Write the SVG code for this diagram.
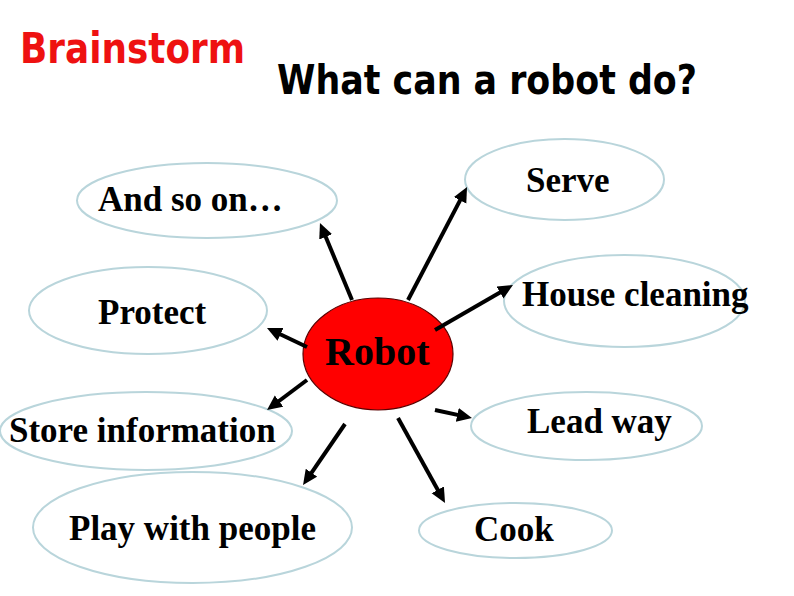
<svg xmlns="http://www.w3.org/2000/svg" width="794" height="596" viewBox="0 0 794 596">
<style>
.bub{fill:#fff;stroke:#b9d5db;stroke-width:2}
.lbl{font-family:"Liberation Serif","Times New Roman",serif;font-weight:bold;font-size:35px;fill:#000}
.title{font-family:"DejaVu Sans","Noto Sans",sans-serif;font-weight:bold}
.arr{stroke:#000;stroke-width:4;fill:none;marker-end:url(#ah)}
</style>
<defs>
<marker id="ah" markerUnits="userSpaceOnUse" markerWidth="18" markerHeight="16" refX="5" refY="7" orient="auto">
<path d="M0,0 L15,7 L0,14 z" fill="#000"/>
</marker>
</defs>
<rect width="794" height="596" fill="#fff"/>
<text class="title" x="20" y="63" font-size="43" fill="#ee1111" textLength="225" lengthAdjust="spacingAndGlyphs">Brainstorm</text>
<text class="title" x="277" y="94" font-size="41" fill="#000" textLength="420" lengthAdjust="spacingAndGlyphs">What can a robot do?</text>

<g id="and-so-on"><ellipse class="bub" cx="207" cy="200.5" rx="130" ry="37.5"/><text class="lbl" x="98" y="211">And so on…</text></g>
<g id="protect"><ellipse class="bub" cx="148" cy="310.5" rx="119" ry="43.5"/><text class="lbl" x="98" y="324">Protect</text></g>
<g id="store"><ellipse class="bub" cx="146" cy="431" rx="146" ry="39"/><text class="lbl" x="9" y="442">Store information</text></g>
<g id="play"><ellipse class="bub" cx="192.5" cy="527.5" rx="159.5" ry="55.5"/><text class="lbl" x="69" y="540">Play with people</text></g>
<g id="serve"><ellipse class="bub" cx="564.5" cy="179.5" rx="99.5" ry="40.5"/><text class="lbl" x="526" y="192">Serve</text></g>
<g id="house"><ellipse class="bub" cx="624.5" cy="301" rx="120.5" ry="46"/><text class="lbl" x="522" y="306">House cleaning</text></g>
<g id="lead"><ellipse class="bub" cx="586.5" cy="426" rx="115.5" ry="34"/><text class="lbl" x="527" y="433">Lead way</text></g>
<g id="cook"><ellipse class="bub" cx="515.5" cy="530.5" rx="96.5" ry="27.5"/><text class="lbl" x="474" y="541">Cook</text></g>
<g id="robot"><ellipse cx="378" cy="354" rx="75" ry="56" fill="#ff0000" stroke="#5a0000" stroke-width="1.2"/><text class="lbl" x="325" y="365" style="font-size:40px">Robot</text></g>

<g id="connectors">
<line class="arr" x1="352" y1="300" x2="323.8" y2="232.2"/>
<line class="arr" x1="307" y1="347" x2="276" y2="332.3"/>
<line class="arr" x1="307" y1="380" x2="275" y2="404"/>
<line class="arr" x1="345" y1="424" x2="308.7" y2="476.8"/>
<line class="arr" x1="408" y1="300" x2="462.4" y2="195.9"/>
<line class="arr" x1="435" y1="330" x2="504.3" y2="290"/>
<line class="arr" x1="435" y1="410" x2="462.2" y2="415.9"/>
<line class="arr" x1="398" y1="418" x2="440.2" y2="494.2"/>
</g>
</svg>
